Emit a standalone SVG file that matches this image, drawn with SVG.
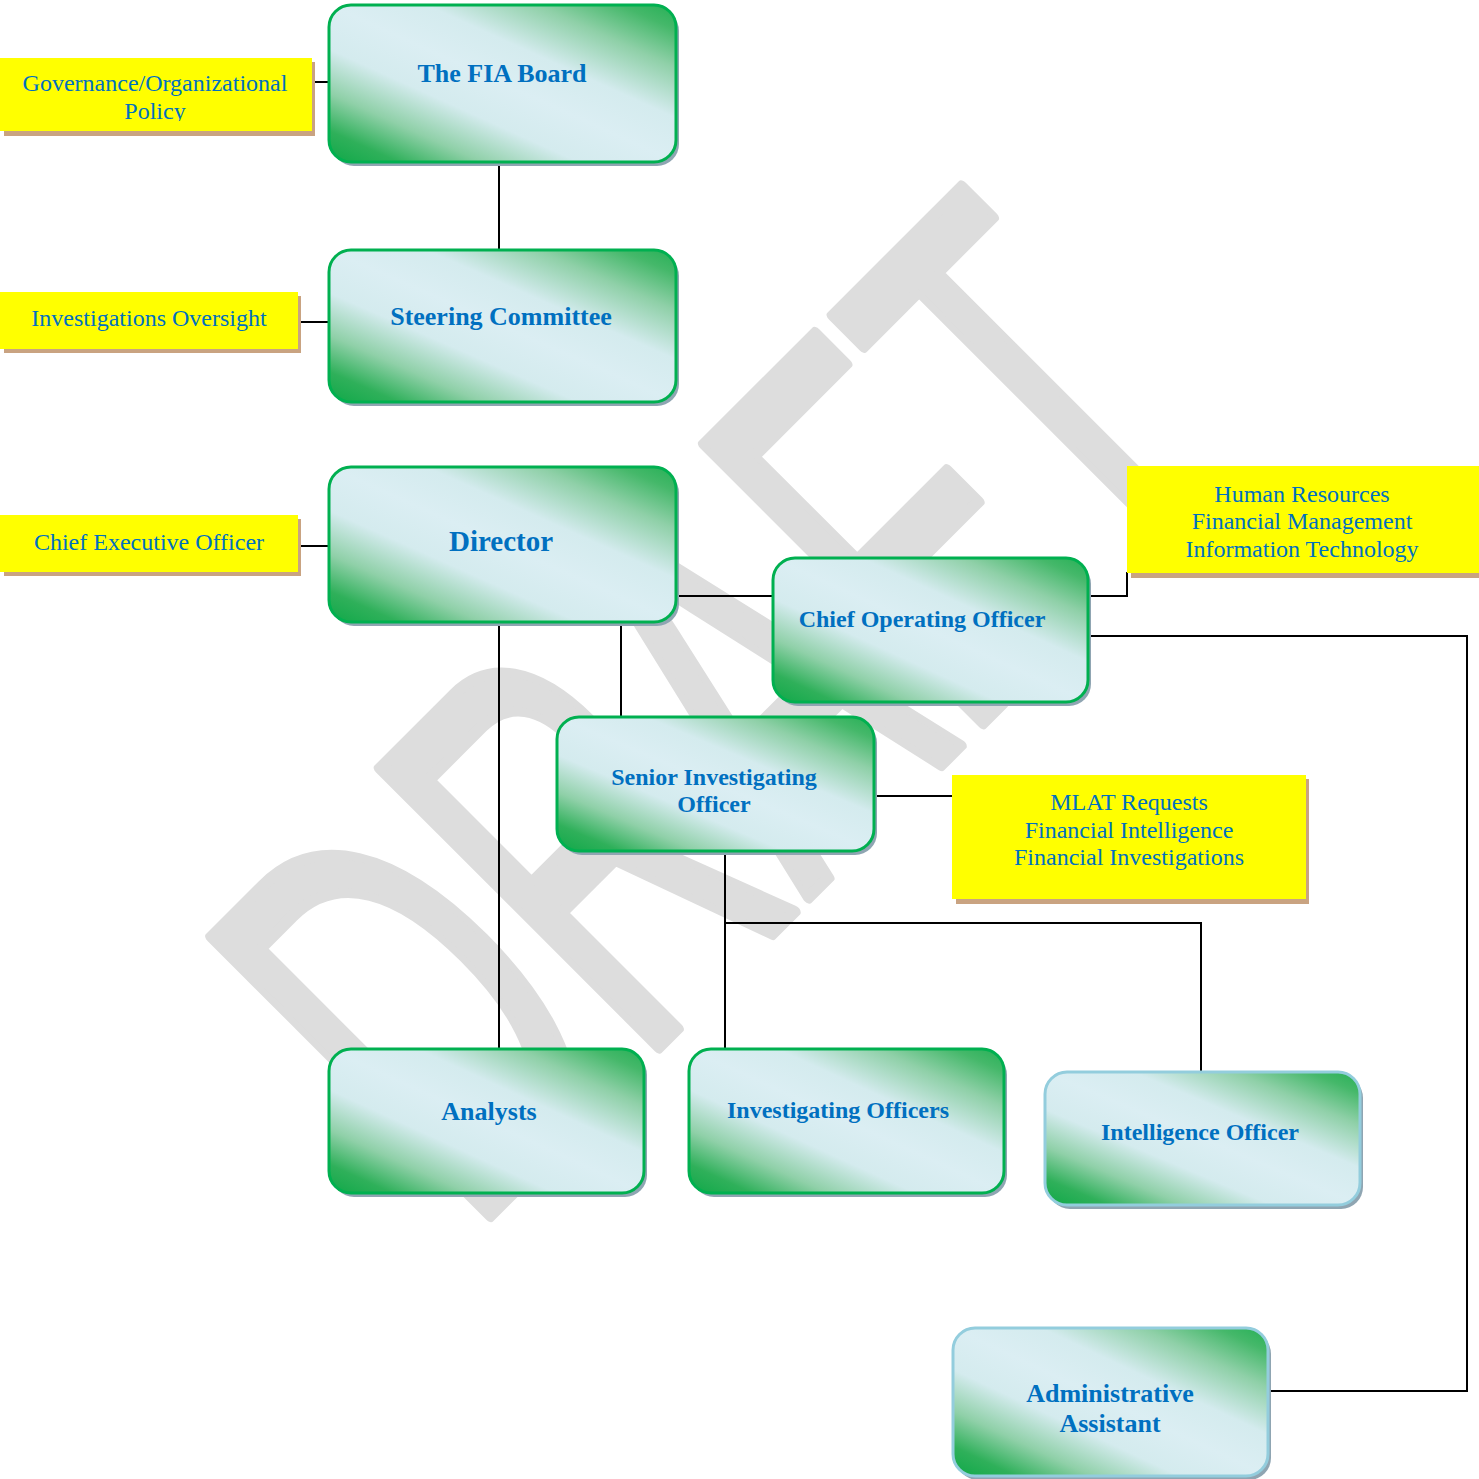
<svg xmlns="http://www.w3.org/2000/svg" width="1479" height="1479" viewBox="0 0 1479 1479">
<defs>
<linearGradient id="g" x1="0" y1="1" x2="1" y2="0">
<stop offset="0" stop-color="#0fa848"/>
<stop offset="0.1" stop-color="#2fb05a"/>
<stop offset="0.22" stop-color="#8fd0a8"/>
<stop offset="0.36" stop-color="#d4ebee"/>
<stop offset="0.5" stop-color="#dbeef3"/>
<stop offset="0.64" stop-color="#d4ebee"/>
<stop offset="0.8" stop-color="#8fd0a8"/>
<stop offset="0.92" stop-color="#45b86a"/>
<stop offset="1" stop-color="#25b055"/>
</linearGradient>
<clipPath id="clipGov"><rect x="0" y="58" width="312" height="63"/></clipPath>
</defs>
<style>
.sh{fill:#8fa5b2}
.box{fill:url(#g);stroke:#00b050;stroke-width:3}
.box2{fill:url(#g);stroke:#93cddd;stroke-width:3}
.ysh{fill:#c9a381}
.ybox{fill:#ffff00}
.t{font-family:"Liberation Serif","Times New Roman",serif;font-weight:bold;fill:#0070c0;text-anchor:middle}
.y{font-family:"Liberation Serif","Times New Roman",serif;font-size:24px;fill:#0070c0;text-anchor:middle}
.c{fill:none;stroke:#000;stroke-width:2}
.wm{font-family:"Liberation Sans",Arial,sans-serif;font-size:573px;fill:#dddddd;stroke:#dddddd;stroke-width:12;stroke-linejoin:round}
</style>
<rect width="1479" height="1479" fill="#ffffff"/>
<g id="watermark">
<text class="wm" transform="translate(469.6,1236.4) rotate(-45) scale(0.576,1)" x="0" y="0">DRAFT</text>
</g>
<g id="connectors">
<path class="c" d="M312,82H329"/>
<path class="c" d="M298,322H329"/>
<path class="c" d="M298,546H329"/>
<path class="c" d="M499,162V250"/>
<path class="c" d="M676,596H773"/>
<path class="c" d="M1088,596H1127V572"/>
<path class="c" d="M1088,636H1467V1391H1268"/>
<path class="c" d="M499,622V1049"/>
<path class="c" d="M621,622V717"/>
<path class="c" d="M874,796H952"/>
<path class="c" d="M725,851V1049"/>
<path class="c" d="M725,923H1201V1072"/>
</g>
<g id="note-governance">
<rect class="ysh" x="4" y="62" width="311" height="74"/>
<rect class="ybox" x="0" y="58" width="312" height="73"/>
<g clip-path="url(#clipGov)">
<text class="y" x="155" y="91">Governance/Organizational</text>
<text class="y" x="155" y="119">Policy</text>
</g>
</g>
<g id="note-investigations">
<rect class="ysh" x="4" y="296" width="297" height="57"/>
<rect class="ybox" x="0" y="292" width="298" height="57"/>
<text class="y" x="149" y="326">Investigations Oversight</text>
</g>
<g id="note-ceo">
<rect class="ysh" x="4" y="519" width="297" height="57"/>
<rect class="ybox" x="0" y="515" width="298" height="57"/>
<text class="y" x="149" y="550">Chief Executive Officer</text>
</g>
<g id="note-hr">
<rect class="ysh" x="1131" y="470" width="352" height="108"/>
<rect class="ybox" x="1127" y="466" width="352" height="107"/>
<text class="y" x="1302" y="502">Human Resources</text>
<text class="y" x="1302" y="529">Financial Management</text>
<text class="y" x="1302" y="557">Information Technology</text>
</g>
<g id="note-mlat">
<rect class="ysh" x="956" y="779" width="353" height="125"/>
<rect class="ybox" x="952" y="775" width="354" height="124"/>
<text class="y" x="1129" y="810">MLAT Requests</text>
<text class="y" x="1129" y="838">Financial Intelligence</text>
<text class="y" x="1129" y="865">Financial Investigations</text>
</g>
<g id="node-fia-board">
<rect class="sh" x="332" y="9" width="347" height="157" rx="22"/>
<rect class="box" x="329" y="5" width="347" height="157" rx="22"/>
<text class="t" x="502" y="82" font-size="26">The FIA Board</text>
</g>
<g id="node-steering">
<rect class="sh" x="332" y="254" width="347" height="152" rx="22"/>
<rect class="box" x="329" y="250" width="347" height="152" rx="22"/>
<text class="t" x="501" y="325" font-size="26">Steering Committee</text>
</g>
<g id="node-director">
<rect class="sh" x="332" y="471" width="347" height="155" rx="22"/>
<rect class="box" x="329" y="467" width="347" height="155" rx="22"/>
<text class="t" x="501" y="551" font-size="29">Director</text>
</g>
<g id="node-coo">
<rect class="sh" x="776" y="562" width="315" height="144" rx="22"/>
<rect class="box" x="773" y="558" width="315" height="144" rx="22"/>
<text class="t" x="922" y="627" font-size="24">Chief Operating Officer</text>
</g>
<g id="node-sio">
<rect class="sh" x="560" y="721" width="317" height="134" rx="22"/>
<rect class="box" x="557" y="717" width="317" height="134" rx="22"/>
<text class="t" x="714" y="785" font-size="24">Senior Investigating</text>
<text class="t" x="714" y="812" font-size="24">Officer</text>
</g>
<g id="node-analysts">
<rect class="sh" x="332" y="1053" width="315" height="144" rx="22"/>
<rect class="box" x="329" y="1049" width="315" height="144" rx="22"/>
<text class="t" x="489" y="1120" font-size="26">Analysts</text>
</g>
<g id="node-investigating-officers">
<rect class="sh" x="692" y="1053" width="315" height="144" rx="22"/>
<rect class="box" x="689" y="1049" width="315" height="144" rx="22"/>
<text class="t" x="838" y="1118" font-size="24">Investigating Officers</text>
</g>
<g id="node-intelligence-officer">
<rect class="sh" x="1048" y="1076" width="315" height="133" rx="22"/>
<rect class="box2" x="1045" y="1072" width="315" height="133" rx="22"/>
<text class="t" x="1200" y="1140" font-size="24">Intelligence Officer</text>
</g>
<g id="node-admin">
<rect class="sh" x="956" y="1332" width="315" height="148" rx="22"/>
<rect class="box2" x="953" y="1328" width="315" height="148" rx="22"/>
<text class="t" x="1110" y="1402" font-size="26">Administrative</text>
<text class="t" x="1110" y="1432" font-size="26">Assistant</text>
</g>
</svg>
